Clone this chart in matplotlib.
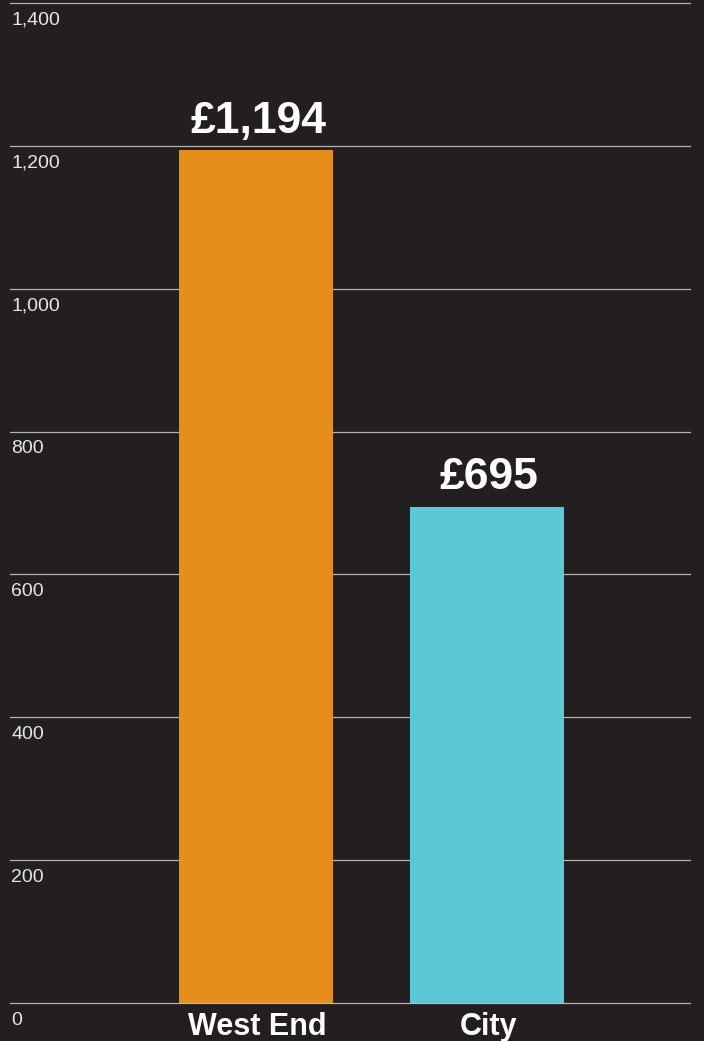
import matplotlib
matplotlib.use("Agg")
import matplotlib.pyplot as plt

# office rents, pounds per sq ft
areas = ["West End", "City"]
rents = [1194, 695]
bar_colors = ["#E58F1A", "#5BC8D8"]
yticks = [0, 200, 400, 600, 800, 1000, 1200, 1400]

bg = "#231F20"
fonts = ["Liberation Sans", "DejaVu Sans"]

fig = plt.figure(figsize=(7.04, 10.41), dpi=100, facecolor=bg)
ax = fig.add_axes([10 / 704, 38 / 1041, 680 / 704, 1000 / 1041], facecolor=bg)

x = list(range(len(areas)))
ax.bar(x, rents, width=0.667, color=bar_colors, zorder=2)

for i, v in zip(x, rents):
    ax.text(i + 0.01, v + 12, "£{:,}".format(v), ha="center", va="bottom",
            color="white", fontsize=32, fontweight="bold", family=fonts)

# gridlines with the tick values sitting just under them
for t in yticks:
    ax.axhline(t, color="#B5B3B3", lw=0.9, zorder=3 if t == 0 else 1, clip_on=False)
    ax.text(-1.06, t - 12, "{:,}".format(t), ha="left", va="top",
            color="#E6E6E6", fontsize=14, family=fonts)

for i, name in zip(x, areas):
    ax.text(i + 0.005, -13, name, ha="center", va="top", color="white",
            fontsize=22, fontweight="bold", family=fonts, clip_on=False)

ax.set_xlim(-1.065, 1.879)
ax.set_ylim(0, 1400)
ax.set_xticks([])
ax.set_yticks([])
for s in ax.spines.values():
    s.set_visible(False)

fig.savefig("out.png", dpi=100, facecolor=bg)
